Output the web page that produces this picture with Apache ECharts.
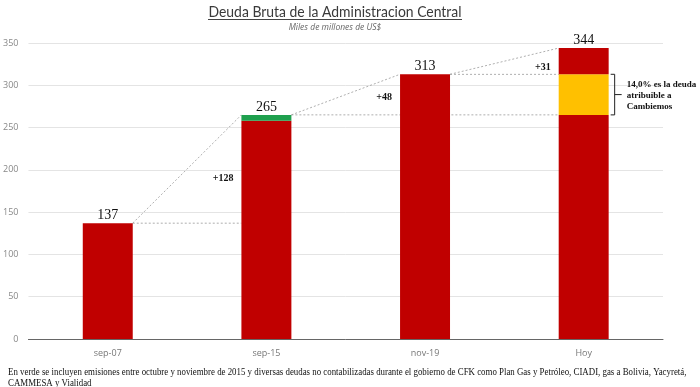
<!DOCTYPE html>
<html><head><meta charset="utf-8">
<script src="https://cdn.jsdelivr.net/npm/echarts@6/dist/echarts.min.js"></script>
<style>html,body{margin:0;padding:0;background:#fff}#c{width:700px;height:387px}</style>
</head><body><div id="c"></div>
<script>
const categories = ['sep-07', 'sep-15', 'nov-19', 'Hoy'];
const totals = [137, 265, 313, 344];
const redBase = [137, 258, 313, 265];
const greenPart = [0, 7, 0, 0];
const yellowPart = [0, 0, 0, 48];
const redTop = [0, 0, 0, 31];
const deltaLabels = ['+128', '+48', '+31'];
const deltaLabelValues = [190, 286, 321];
const hLineEnd = [1, 3, 3];
const annotation = '14,0% es la deuda\natribuible a\nCambiemos';
const titleText = 'Deuda Bruta de la Administracion Central';
const subtitleText = 'Miles de millones de US$';
const footnote1 = 'En verde se incluyen emisiones entre octubre y noviembre de 2015 y diversas deudas no contabilizadas durante el gobierno de CFK como Plan Gas y Petróleo, CIADI, gas a Bolivia, Yacyretá,';
const footnote2 = 'CAMMESA y Vialidad';

const BAR_RATIO = 0.315;
const chart = echarts.init(document.getElementById('c'));
const serif = '"Liberation Serif", "Times New Roman", serif';
const dash = {stroke: '#9a9a9a', lineWidth: 0.8, lineDash: [2, 2]};

function measure(text, font) {
  const ctx = document.createElement('canvas').getContext('2d');
  ctx.font = font;
  return ctx.measureText(text).width;
}

function renderConn(params, api) {
  const i = params.dataIndex;
  const hw = api.size([1, 0])[0] * BAR_RATIO / 2;
  const children = [];
  const top = api.coord([i, totals[i]]);
  children.push({type: 'text', z2: 10, style: {x: top[0], y: top[1] - 1, text: String(totals[i]), fill: '#111', font: '14px ' + serif, align: 'center', verticalAlign: 'bottom'}});
  if (i < 3) {
    const nxt = api.coord([i + 1, totals[i + 1]]);
    children.push({type: 'line', shape: {x1: top[0] + hw, y1: top[1], x2: nxt[0] - hw, y2: nxt[1]}, style: dash});
    const he = api.coord([hLineEnd[i], totals[i]]);
    children.push({type: 'line', shape: {x1: top[0] + hw, y1: top[1], x2: he[0] - hw, y2: top[1]}, style: dash});
    const dl = api.coord([i + 1, deltaLabelValues[i]]);
    children.push({type: 'text', z2: 10, style: {x: dl[0] - hw - 8, y: dl[1], text: deltaLabels[i], fill: '#111', font: 'bold 10px ' + serif, align: 'right', verticalAlign: 'middle'}});
  } else {
    const lo = api.coord([i, redBase[i]]);
    const hi = api.coord([i, redBase[i] + yellowPart[i]]);
    const x0 = lo[0] + hw + 2;
    const x1 = x0 + 4;
    const ym = (lo[1] + hi[1]) / 2;
    children.push({type: 'polyline', shape: {points: [[x0, hi[1]], [x1, hi[1]], [x1, lo[1]], [x0, lo[1]]]}, style: {stroke: '#222', lineWidth: 1, fill: null}});
    children.push({type: 'line', shape: {x1: x1, y1: ym, x2: x1 + 7, y2: ym}, style: {stroke: '#222', lineWidth: 1}});
    children.push({type: 'text', z2: 10, style: {x: x1 + 12, y: ym + 1, text: annotation, fill: '#111', font: 'bold 9px ' + serif, lineHeight: 11, align: 'left', verticalAlign: 'middle'}});
  }
  return {type: 'group', children: children};
}

const titleFont = '15px Lato';
const tw = measure(titleText, titleFont);
const titleScale = 253 / tw;
const tcx = 335;

chart.setOption({
  animation: false,
  backgroundColor: '#fff',
  grid: {left: 28, right: 37, top: 43, bottom: 48, containLabel: false},
  xAxis: {
    type: 'category', data: categories,
    axisLine: {lineStyle: {color: '#666', width: 1}},
    axisTick: {show: false},
    axisLabel: {color: '#777', fontSize: 9, margin: 10, fontFamily: 'Open Sans'}
  },
  yAxis: {
    type: 'value', min: 0, max: 350, interval: 50,
    axisLine: {show: false}, axisTick: {show: false},
    splitLine: {lineStyle: {color: '#e4e4e4', width: 1}},
    axisLabel: {color: '#888', fontSize: 9, margin: 10, fontFamily: 'Open Sans'}
  },
  series: [
    {type: 'bar', stack: 's', data: redBase, barWidth: (BAR_RATIO * 100) + '%', itemStyle: {color: '#C00000'}, z: 3},
    {type: 'bar', stack: 's', data: greenPart, itemStyle: {color: '#1FA04E'}, z: 3},
    {type: 'bar', stack: 's', data: yellowPart, itemStyle: {color: '#FFC000'}, z: 3},
    {type: 'bar', stack: 's', data: redTop, itemStyle: {color: '#C00000'}, z: 3},
    {type: 'custom', data: categories.map((c, i) => [i, totals[i]]), renderItem: renderConn, z: 1, silent: true}
  ],
  graphic: [
    {type: 'text', x: tcx, y: 12, scaleX: titleScale, style: {text: titleText, fill: '#3a3a3a', font: titleFont, align: 'center', verticalAlign: 'middle'}},
    {type: 'line', shape: {x1: tcx - 127, y1: 19.5, x2: tcx + 127, y2: 19.5}, style: {stroke: '#444', lineWidth: 1}},
    {type: 'text', x: tcx, y: 28, style: {text: subtitleText, fill: '#666', font: 'italic 8.5px "Open Sans"', align: 'center', verticalAlign: 'middle'}},
    {type: 'text', x: 8, y: 372, scaleX: 0.885, style: {text: footnote1, fill: '#111', font: '10px ' + serif, verticalAlign: 'middle'}},
    {type: 'text', x: 8, y: 383, scaleX: 0.885, style: {text: footnote2, fill: '#111', font: '10px ' + serif, verticalAlign: 'middle'}}
  ]
});
</script>
</body></html>
